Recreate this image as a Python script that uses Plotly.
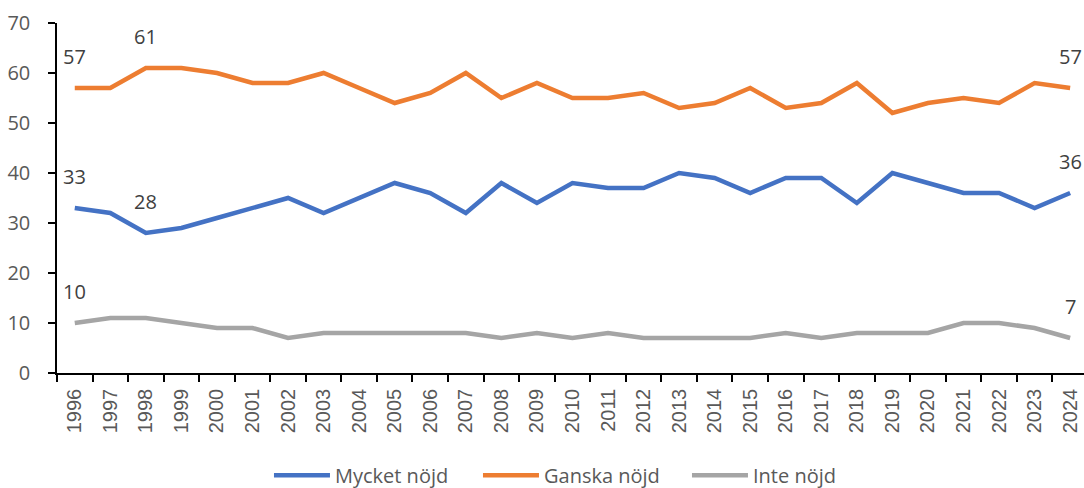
import plotly.graph_objects as go

years = [str(y) for y in range(1996, 2025)]
mycket = [33, 32, 28, 29, 31, 33, 35, 32, 35, 38, 36, 32, 38, 34, 38, 37, 37, 40, 39, 36, 39, 39, 34, 40, 38, 36, 36, 33, 36]
ganska = [57, 57, 61, 61, 60, 58, 58, 60, 57, 54, 56, 60, 55, 58, 55, 55, 56, 53, 54, 57, 53, 54, 58, 52, 54, 55, 54, 58, 57]
inte = [10, 11, 11, 10, 9, 9, 7, 8, 8, 8, 8, 8, 7, 8, 7, 8, 7, 7, 7, 7, 8, 7, 8, 8, 8, 10, 10, 9, 7]

series_names = ["Mycket nöjd", "Ganska nöjd", "Inte nöjd"]
series_values = [mycket, ganska, inte]
colors = ["#4472C4", "#ED7D31", "#A5A5A5"]
# indices of points carrying data labels in each series
label_idx = [[0, 2, 28], [0, 2, 28], [0, 28]]

FONT = "'Open Sans', sans-serif"
XFONT = "'Liberation Sans', Arial, sans-serif"

fig = go.Figure()
for name, vals, col in zip(series_names, series_values, colors):
    fig.add_trace(go.Scatter(x=years, y=vals, mode="lines", name=name,
                             line=dict(color=col, width=4.5, shape="linear"),
                             hoverinfo="skip"))

for vals, idxs in zip(series_values, label_idx):
    for i in idxs:
        fig.add_annotation(x=i, y=vals[i], xref="x", yref="y", text=str(vals[i]),
                           showarrow=False, yshift=32, xanchor="center", yanchor="middle",
                           font=dict(family=FONT, size=20, color="#404040"))

fig.update_layout(
    width=1084, height=488,
    margin=dict(l=57, r=0, t=23, b=115, autoexpand=False),
    paper_bgcolor="white", plot_bgcolor="white",
    font=dict(family=FONT, color="#595959"),
    showlegend=True,
    legend=dict(orientation="h", x=0.2064, xanchor="left", y=-0.292, yanchor="middle",
                font=dict(family=FONT, size=20, color="#595959"),
                itemwidth=56, entrywidth=138, entrywidthmode="pixels", tracegroupgap=0),
)
fig.update_xaxes(type="category", range=[-0.5, 28.39], showgrid=False, automargin=False,
                 showline=True, linecolor="black", linewidth=1.5,
                 ticks="outside", tickson="boundaries", ticklen=7, tickcolor="black", tickwidth=1.5,
                 tickangle=-90, ticklabelstandoff=6,
                 tickfont=dict(family=XFONT, size=20, color="#595959"),
                 zeroline=False)
fig.update_yaxes(range=[0, 70], dtick=10, showgrid=False, automargin=False,
                 showline=True, linecolor="black", linewidth=1.5,
                 ticks="outside", ticklen=7, tickcolor="black", tickwidth=1.5,
                 ticklabelstandoff=14,
                 tickfont=dict(family=FONT, size=20, color="#595959"),
                 zeroline=False)

fig.write_html("out.html", config={"displayModeBar": False},
               post_script="document.body.style.margin='0';document.body.style.overflow='hidden';")
